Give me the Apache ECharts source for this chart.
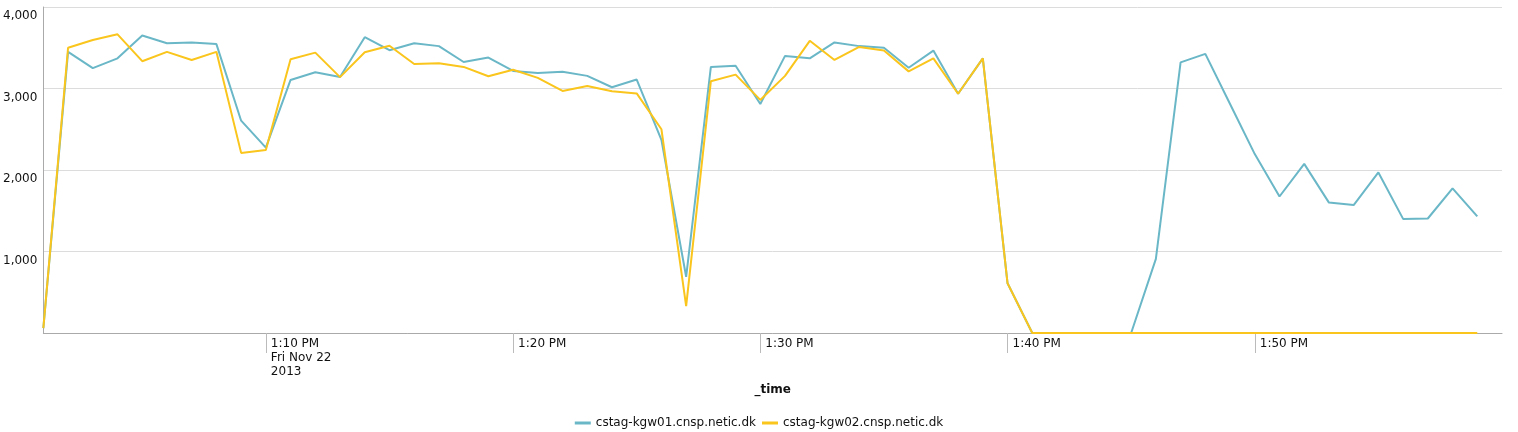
<!DOCTYPE html>
<html>
<head>
<meta charset="utf-8">
<script src="https://cdn.jsdelivr.net/npm/echarts@6/dist/echarts.min.js"></script>
<style>
  html, body { margin: 0; padding: 0; background: #fff; }
  #chart { width: 1518px; height: 432px; }
</style>
</head>
<body>
<div id="chart"></div>
<script>
// one sample per minute, 1:01 PM .. 2:00 PM (last slot empty)
var times = [
  '1:01 PM', '1:02 PM', '1:03 PM', '1:04 PM', '1:05 PM', '1:06 PM', '1:07 PM', '1:08 PM', '1:09 PM', '1:10 PM',
  '1:11 PM', '1:12 PM', '1:13 PM', '1:14 PM', '1:15 PM', '1:16 PM', '1:17 PM', '1:18 PM', '1:19 PM', '1:20 PM',
  '1:21 PM', '1:22 PM', '1:23 PM', '1:24 PM', '1:25 PM', '1:26 PM', '1:27 PM', '1:28 PM', '1:29 PM', '1:30 PM',
  '1:31 PM', '1:32 PM', '1:33 PM', '1:34 PM', '1:35 PM', '1:36 PM', '1:37 PM', '1:38 PM', '1:39 PM', '1:40 PM',
  '1:41 PM', '1:42 PM', '1:43 PM', '1:44 PM', '1:45 PM', '1:46 PM', '1:47 PM', '1:48 PM', '1:49 PM', '1:50 PM',
  '1:51 PM', '1:52 PM', '1:53 PM', '1:54 PM', '1:55 PM', '1:56 PM', '1:57 PM', '1:58 PM', '1:59 PM', '2:00 PM'
];
var tickLabels = ['1:10 PM', '1:20 PM', '1:30 PM', '1:40 PM', '1:50 PM'];
var firstTickDate = 'Fri Nov 22\n2013';

var kgw01 = [
  60, 3450, 3250, 3370, 3650, 3555, 3565, 3545, 2605, 2275,
  3105, 3200, 3140, 3630, 3470, 3555, 3520, 3325, 3380, 3215,
  3190, 3205, 3155, 3015, 3110, 2370, 690, 3265, 3280, 2810,
  3400, 3370, 3565, 3520, 3500, 3255, 3465, 2935, 3370, 610,
  0, 0, 0, 0, 0, 910, 3320, 3425, 2810, 2195,
  1675, 2075, 1600, 1570, 1970, 1400, 1405, 1775, 1430
];
var kgw02 = [
  60, 3500, 3595, 3665, 3335, 3450, 3350, 3450, 2210, 2245,
  3360, 3440, 3140, 3445, 3525, 3300, 3310, 3265, 3150, 3230,
  3130, 2970, 3030, 2965, 2940, 2500, 330, 3090, 3170, 2860,
  3155, 3585, 3350, 3510, 3465, 3210, 3370, 2935, 3370, 610,
  0, 0, 0, 0, 0, 0, 0, 0, 0, 0,
  0, 0, 0, 0, 0, 0, 0, 0, 0
];
var names = ['cstag-kgw01.cnsp.netic.dk', 'cstag-kgw02.cnsp.netic.dk'];
var colors = ['#6ab7c7', '#fac51c'];

var font = '"DejaVu Sans", "Lucida Grande", sans-serif';
var chart = echarts.init(document.getElementById('chart'));

function isTick(index, value) {
  return tickLabels.indexOf(value) >= 0;
}

chart.setOption({
  animation: false,
  color: colors,
  textStyle: { fontFamily: font },
  grid: { left: 42, right: 16, top: 7, bottom: 99 },
  legend: {
    data: names,
    left: 'center',
    top: 412,
    icon: 'rect',
    itemWidth: 16,
    itemHeight: 3,
    itemGap: 6,
    textStyle: { fontFamily: font, fontSize: 12, color: '#111' }
  },
  xAxis: {
    type: 'category',
    data: times,
    boundaryGap: false,
    name: '_time',
    nameLocation: 'middle',
    nameGap: 45,
    nameTextStyle: { fontFamily: font, fontSize: 12, fontWeight: 'bold', color: '#111' },
    axisLine: { lineStyle: { color: '#aaa', width: 1 } },
    axisTick: { show: true, interval: isTick, length: 20, lineStyle: { color: '#bbb' } },
    axisLabel: {
      interval: isTick,
      align: 'left',
      margin: 4,
      lineHeight: 14,
      padding: [0, 0, 0, 5],
      color: '#111',
      fontSize: 12,
      formatter: function (value) {
        return value === tickLabels[0] ? value + '\n' + firstTickDate : value;
      }
    },
    splitLine: { show: false }
  },
  yAxis: {
    type: 'value',
    min: 0,
    max: 4000,
    interval: 1000,
    axisLine: { show: true, lineStyle: { color: '#aaa' } },
    axisTick: { show: false },
    axisLabel: {
      margin: 6,
      verticalAlign: 'top',
      padding: [3, 0, 0, 0],
      color: '#111',
      fontSize: 12,
      formatter: function (v) {
        return v === 0 ? '' : v.toLocaleString('en-US');
      }
    },
    splitLine: { lineStyle: { color: '#dcdcdc', width: 1 } }
  },
  series: [
    {
      name: names[0],
      type: 'line',
      data: kgw01,
      showSymbol: false,
      lineStyle: { width: 2 },
      z: 2
    },
    {
      name: names[1],
      type: 'line',
      data: kgw02,
      showSymbol: false,
      lineStyle: { width: 2 },
      z: 3
    }
  ]
});
</script>
</body>
</html>
